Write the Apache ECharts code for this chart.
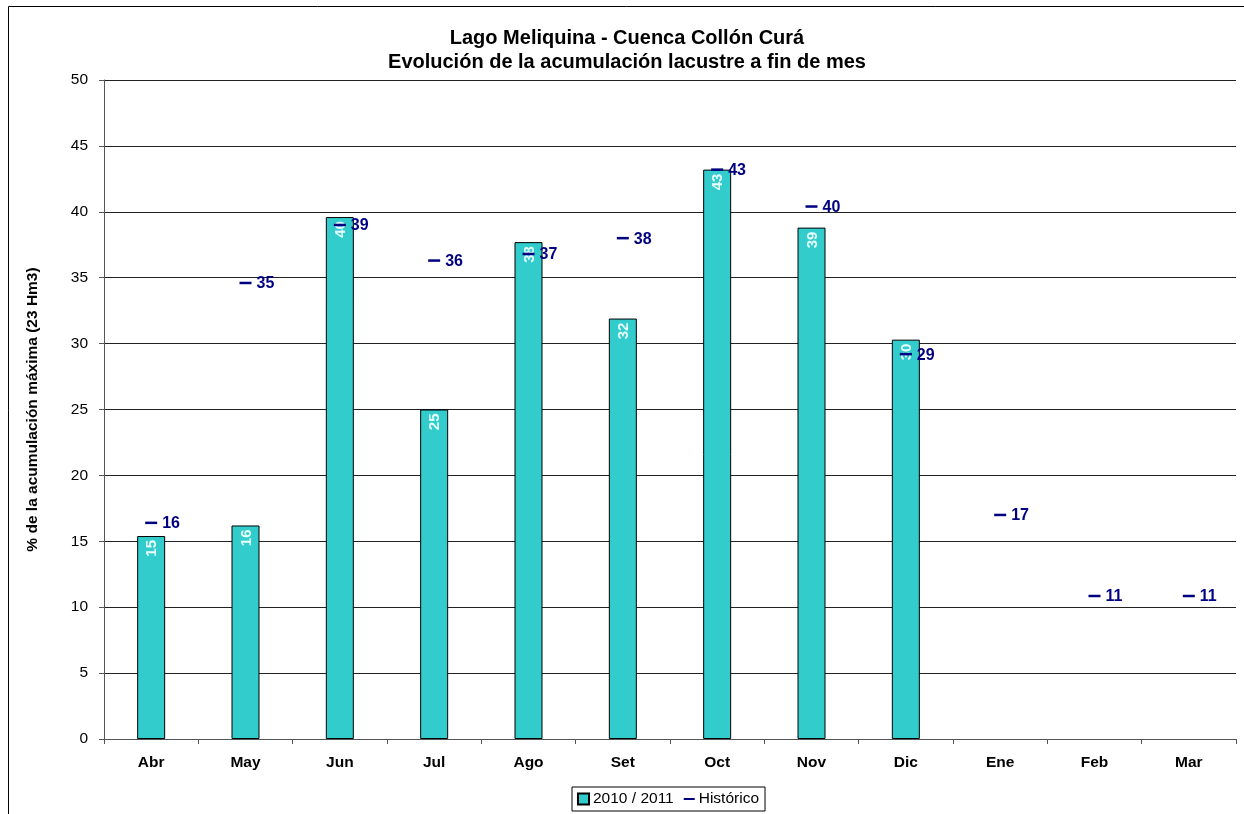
<!DOCTYPE html>
<html>
<head>
<meta charset="utf-8">
<script src="https://cdn.jsdelivr.net/npm/echarts@6/dist/echarts.min.js"></script>
<style>
  html, body { margin: 0; padding: 0; background: #fff; }
  #chart { width: 1244px; height: 814px; }
</style>
</head>
<body>
<div id="chart"></div>
<script>
// Monthly categories (hydrological year April - March)
var months = ['Abr', 'May', 'Jun', 'Jul', 'Ago', 'Set', 'Oct', 'Nov', 'Dic', 'Ene', 'Feb', 'Mar'];
// Storage at end of month, 2010/2011 season (% of maximum)
var season2010 = [15.4, 16.2, 39.6, 25.0, 37.7, 31.9, 43.2, 38.8, 30.3, null, null, null];
// Historical mean storage (% of maximum)
var historico = [16.4, 34.6, 39.0, 36.3, 36.8, 38.0, 43.2, 40.4, 29.2, 17.0, 10.85, 10.85];
// Value axis ticks
var yMin = 0, yMax = 50, yStep = 5;

var chart = echarts.init(document.getElementById('chart'));
var font = 'Liberation Sans, Arial, sans-serif';

chart.setOption({
  backgroundColor: '#ffffff',
  animation: false,
  textStyle: { fontFamily: font },
  title: {
    text: 'Lago Meliquina - Cuenca Collón Curá\nEvolución de la acumulación lacustre a fin de mes',
    left: 627,
    textAlign: 'center',
    top: 26,
    padding: 0,
    textStyle: { fontFamily: font, fontSize: 20, fontWeight: 'bold', color: '#000', lineHeight: 24 }
  },
  legend: {
    top: 787,
    left: 572,
    borderColor: '#000',
    borderWidth: 1,
    padding: [4, 6, 4, 5],
    itemGap: 10,
    itemWidth: 11,
    itemHeight: 11,
    textStyle: { fontFamily: font, fontSize: 15.5, color: '#000', padding: [0, 0, 0, -1] },
    data: [
      { name: '2010 / 2011', icon: 'rect' },
      { name: 'Histórico', icon: 'path://M0,0L0,0.01M0,4.3L12,4.3L12,6.7L0,6.7ZM12,11L12,11.01' }
    ]
  },
  grid: { left: 104, right: 8, top: 80, bottom: 75, containLabel: false },
  xAxis: {
    type: 'category',
    data: months,
    boundaryGap: true,
    axisLine: { lineStyle: { color: '#555', width: 1 } },
    axisTick: { show: true, length: 5, lineStyle: { color: '#555' } },
    axisLabel: { fontFamily: font, fontSize: 15.5, fontWeight: 'bold', color: '#000', margin: 16 }
  },
  yAxis: {
    type: 'value',
    min: yMin,
    max: yMax,
    interval: yStep,
    name: '% de la acumulación máxima (23 Hm3)',
    nameLocation: 'middle',
    nameGap: 63,
    nameRotate: 90,
    nameTextStyle: { fontFamily: font, fontSize: 15.5, fontWeight: 'bold', color: '#000' },
    axisLine: { show: true, lineStyle: { color: '#555', width: 1 } },
    axisTick: { show: true, length: 5, lineStyle: { color: '#555' } },
    axisLabel: { fontFamily: font, fontSize: 15.5, color: '#000', margin: 16 },
    splitLine: { show: true, lineStyle: { color: '#222', width: 1 } }
  },
  series: [
    {
      name: '2010 / 2011',
      type: 'bar',
      data: season2010,
      barWidth: 28,
      itemStyle: {
        color: '#33CCCC',
        borderColor: '#000',
        borderWidth: 1
      },
      label: {
        show: true,
        position: 'insideTop',
        rotate: 90,
        align: 'right',
        verticalAlign: 'middle',
        offset: [0, 1],
        distance: 4,
        fontFamily: font,
        fontSize: 15,
        fontWeight: 'bold',
        color: '#E6FFFF',
        formatter: function (p) { return Math.round(p.value); }
      },
      z: 2
    },
    {
      name: 'Histórico',
      type: 'line',
      data: historico,
      symbol: 'rect',
      symbolSize: [12, 2.5],
      showSymbol: true,
      lineStyle: { width: 0, opacity: 0 },
      itemStyle: { color: '#000080' },
      label: {
        show: true,
        position: 'right',
        distance: 5,
        offset: [0, 1],
        fontFamily: font,
        fontSize: 16,
        fontWeight: 'bold',
        color: '#000080',
        formatter: function (p) { return Math.round(p.value); }
      },
      z: 3
    }
  ],
  graphic: [
    {
      type: 'rect',
      shape: { x: 8.5, y: 6.5, width: 1240, height: 820 },
      style: { fill: 'none', stroke: '#000', lineWidth: 1 },
      silent: true,
      z: -1
    }
  ]
});
</script>
</body>
</html>
